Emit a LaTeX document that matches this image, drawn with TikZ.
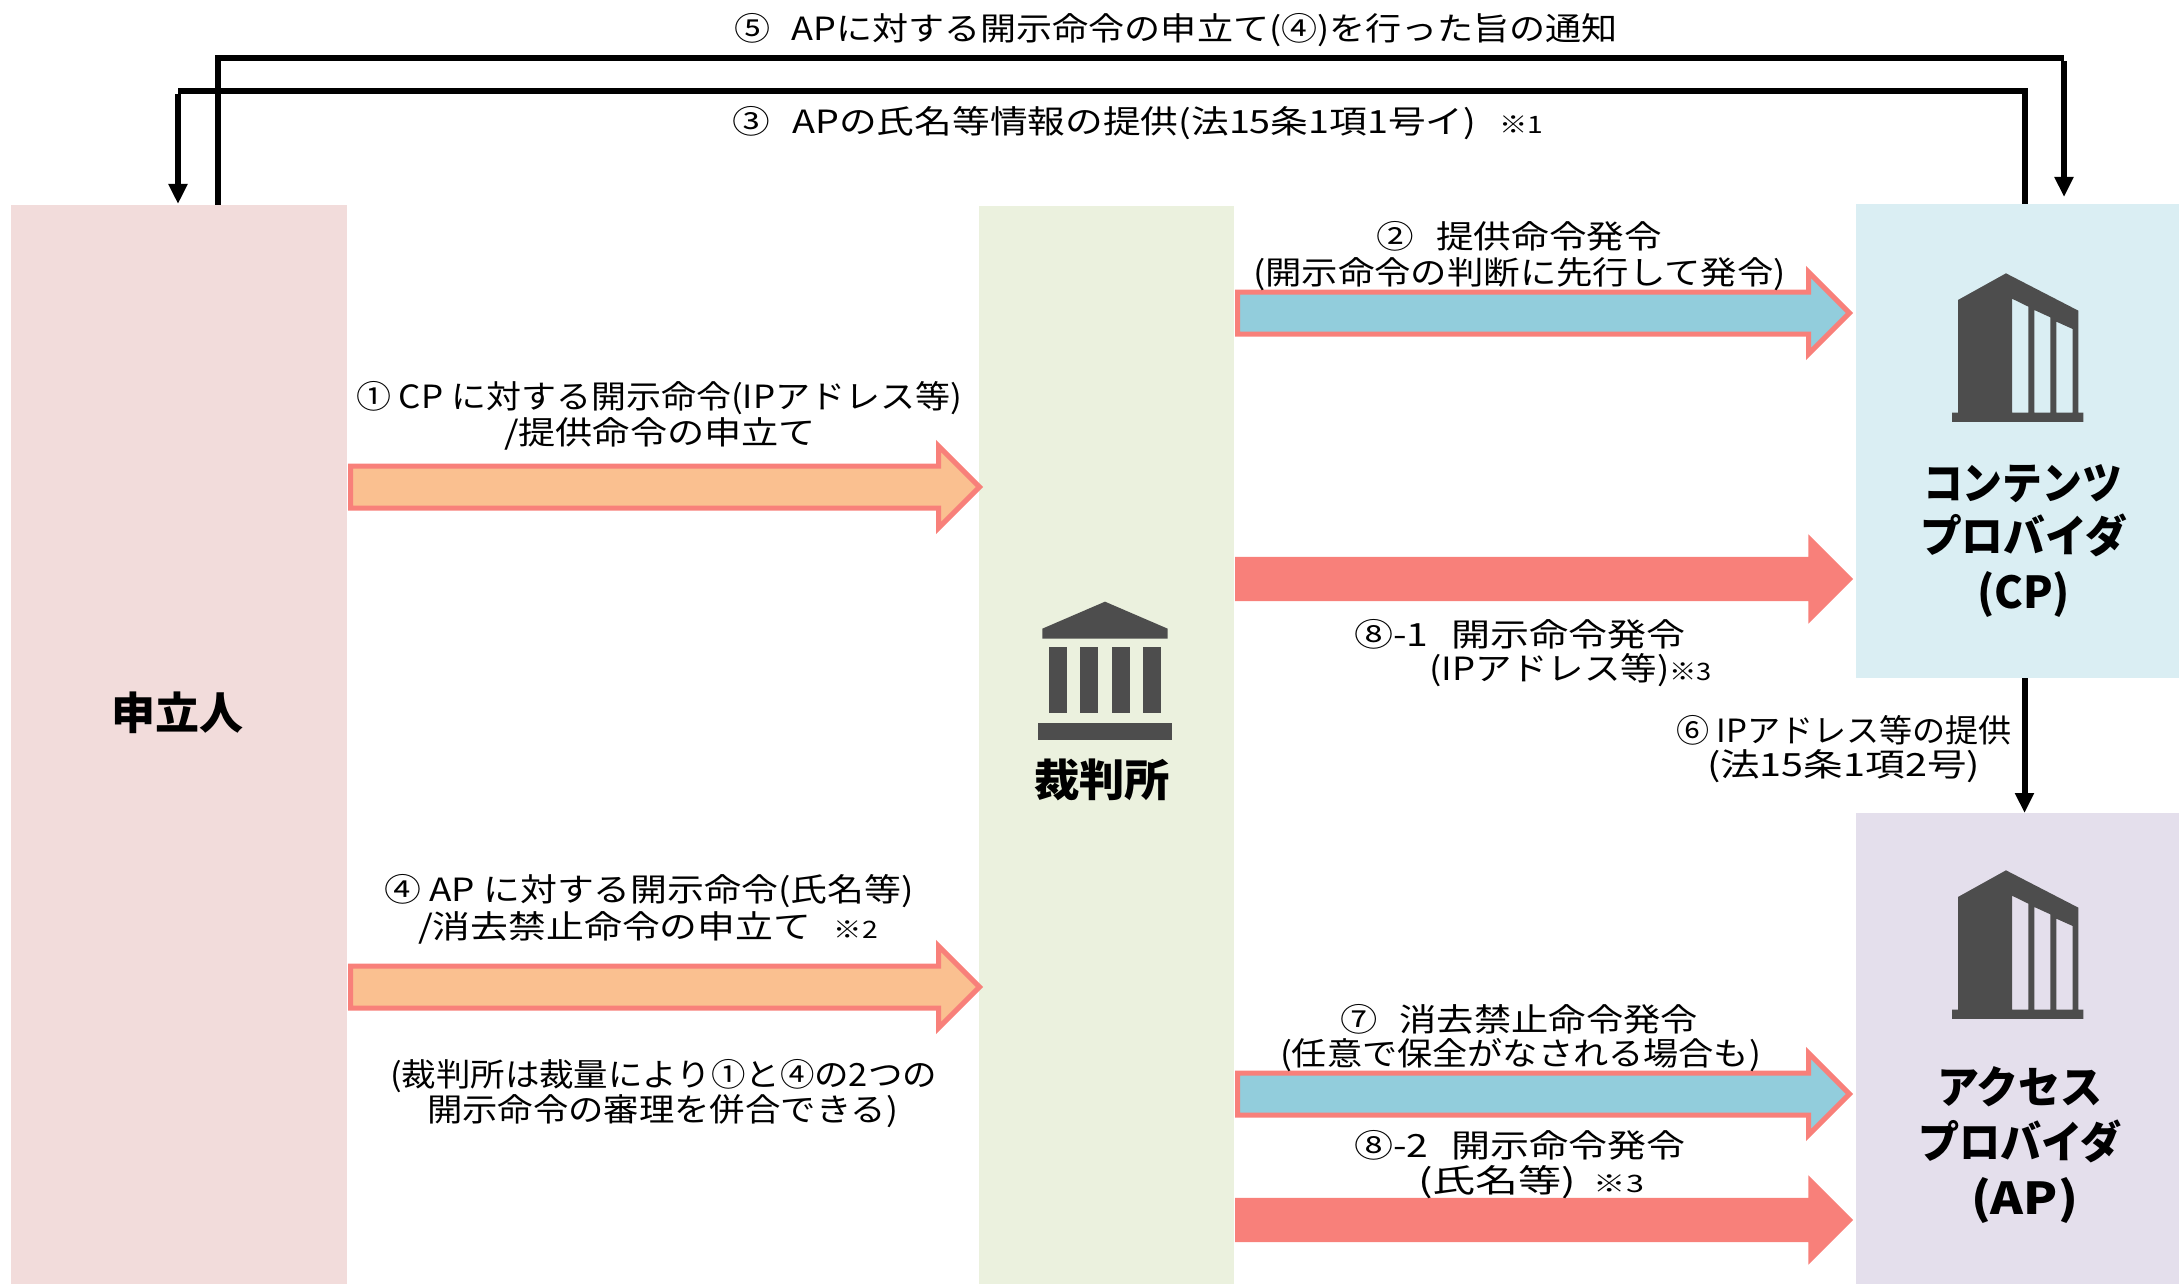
\documentclass[tikz,border=0pt]{standalone}
\usepackage{graphicx}
\usepackage{fontspec}
\setmainfont{Noto Sans CJK JP}
\usetikzlibrary{arrows.meta,shapes.arrows}
\definecolor{boxapp}{HTML}{F2DCDB}
\definecolor{boxcourt}{HTML}{EBF1DE}
\definecolor{boxcp}{HTML}{DAEEF3}
\definecolor{boxap}{HTML}{E4DFEC}
\definecolor{salmon}{HTML}{F8807A}
\definecolor{peach}{HTML}{FAC090}
\definecolor{sky}{HTML}{92CDDC}
\definecolor{icongrey}{HTML}{4D4D4D}
\newsavebox\fitbox
\newcommand\fitto[2]{\sbox\fitbox{#2}\pgfmathsetmacro\fitr{(#1)/\the\wd\fitbox}\scalebox{\fitr}[1]{\usebox\fitbox}}
\newcommand\lbl[5]{\node[lab] (#1) at ({(#2+#3)/2},{#4+12}) {\fitto{#3-#2}{#5}};}
\newcommand\blbl[5]{\node[blab] (#1) at ({(#2+#3)/2},{#4+16}) {\fitto{#3-#2}{#5}};}
\newcommand\smallnote[1]{{\fontsize{24pt}{24pt}\selectfont #1}}
\tikzset{
  panel/.style={rectangle,draw=none,inner sep=0pt,outer sep=0pt},
  lab/.style={anchor=base,inner sep=0pt,outer sep=0pt,font=\fontsize{32pt}{32pt}\selectfont},
  blab/.style={anchor=base,inner sep=0pt,outer sep=0pt,font=\fontsize{44pt}{44pt}\selectfont\bfseries},
  conn/.style={draw=black,line width=6pt,-{Triangle[width=18pt,length=20pt]}},
  plainconn/.style={draw=black,line width=6pt},
  block/.style={single arrow,anchor=tail,single arrow tip angle=90,inner xsep=0pt,outer sep=0pt},
  outlined/.style={block,draw=salmon,line width=5pt,inner ysep=18.5pt,single arrow head extend=20pt},
  solidarrow/.style={block,fill=salmon,draw=none,inner ysep=22pt,single arrow head extend=22.5pt},
  bldg/.pic={
    \fill[icongrey,even odd rule,x=0.3333pt,y=-0.3333pt]
      (474,360)--(618,280)--(835,392)--(835,698)--(850,698)--(850,726)--(456,726)--(456,698)--(474,698)--cycle
      (636,356)--(685,380)--(685,698)--(636,698)--cycle
      (703,390)--(751,412)--(751,698)--(703,698)--cycle
      (769,425)--(818,447)--(818,698)--(769,698)--cycle;
  },
}
\begin{document}
\begin{tikzpicture}[x=1pt,y=-1pt]
\useasboundingbox (0,0) rectangle (2179,1284);
% panels
\node[panel,fill=boxapp,minimum width=336pt,minimum height=1079pt] (app) at (179,744.5) {};
\node[panel,fill=boxcourt,minimum width=255pt,minimum height=1078pt] (court) at (1106.5,745) {};
\node[panel,fill=boxcp,minimum width=323pt,minimum height=474pt] (cp) at (2017.5,441) {};
\node[panel,fill=boxap,minimum width=323pt,minimum height=471pt] (ap) at (2017.5,1048.5) {};
% block arrows
\node[outlined,fill=peach,minimum height=629pt,minimum width=77pt] (a1) at (350.5,487) {};
\node[outlined,fill=peach,minimum height=629pt,minimum width=77pt] (a4) at (350.5,987) {};
\node[outlined,fill=sky,minimum height=612pt,minimum width=77pt] (a2) at (1237.5,313) {};
\node[outlined,fill=sky,minimum height=612pt,minimum width=77pt] (a7) at (1237.5,1094) {};
\node[solidarrow,minimum height=618pt,minimum width=89pt] (a81) at (1235,579) {};
\node[solidarrow,minimum height=618pt,minimum width=89pt] (a82) at (1235,1220) {};
% connectors
\coordinate (k5) at (2064,58);
\coordinate (n5) at (2064,197);
\coordinate (k3) at (178,91);
\coordinate (n3) at (178,204);
\draw[plainconn] ([xshift=39pt]app.north) |- (k5);
\draw[conn] ([yshift=-3pt]k5) -- (n5);
\draw[plainconn] ([xshift=7pt]cp.north) |- (k3);
\draw[conn] ([yshift=-3pt]k3) -- (n3);
\draw[conn] ([xshift=7pt]cp.south) -- ([xshift=7pt]ap.north);
% icons
\pic at (1800,180) {bldg};
\pic at (1800,777) {bldg};
\begin{scope}[shift={(980,580)},x=0.3333pt,y=-0.3333pt]
  \fill[icongrey] (187,146)--(375,65)--(563,146)--(563,176)--(187,176)--cycle;
  \fill[icongrey] (207,202) rectangle (261,400);
  \fill[icongrey] (301,202) rectangle (355,400);
  \fill[icongrey] (395,202) rectangle (449,400);
  \fill[icongrey] (489,202) rectangle (543,400);
  \fill[icongrey] (174,428) rectangle (577,480);
\end{scope}
% bold labels
\blbl{tapp}{111}{243}{713}{申立人}
\blbl{tcourt}{1034}{1170}{780}{裁判所}
\blbl{tcp1}{1923}{2122}{483}{コンテンツ}
\blbl{tcp2}{1920}{2127}{536}{プロバイダ}
\blbl{tcp3}{1977}{2070}{592}{(CP)}
\blbl{tap1}{1937}{2103}{1087}{アクセス}
\blbl{tap2}{1918}{2122}{1142}{プロバイダ}
\blbl{tap3}{1971}{2078}{1198}{(AP)}
% labels
\lbl{l5}{734}{1618}{29}{⑤\hspace{0.6em}APに対する開示命令の申立て(④)を行った旨の通知}
\lbl{l3}{732}{1543}{122}{③\hspace{0.6em}APの氏名等情報の提供(法15条1項1号イ)\hspace{0.6em}\smallnote{※1}}
\lbl{l2a}{1376}{1662}{236}{②\hspace{0.6em}提供命令発令}
\lbl{l2b}{1253}{1786}{272}{(開示命令の判断に先行して発令)}
\lbl{l1a}{356}{962}{396}{① CP に対する開示命令(IPアドレス等)}
\lbl{l1b}{504}{816}{432}{/提供命令の申立て}
\lbl{l81a}{1354}{1686}{634}{⑧-1\hspace{0.6em}開示命令発令}
\lbl{l81b}{1429}{1712}{668}{(IPアドレス等)\smallnote{※3}}
\lbl{l6a}{1676}{2012}{730}{⑥ IPアドレス等の提供}
\lbl{l6b}{1707}{1980}{764}{(法15条1項2号)}
\lbl{l4a}{384}{914}{889}{④ AP に対する開示命令(氏名等)}
\lbl{l4b}{418}{878}{926}{/消去禁止命令の申立て\hspace{0.6em}\smallnote{※2}}
\lbl{lna}{390}{937}{1074}{(裁判所は裁量により①と④の2つの}
\lbl{lnb}{427}{898}{1109}{開示命令の審理を併合できる)}
\lbl{l7a}{1340}{1698}{1019}{⑦\hspace{0.6em}消去禁止命令発令}
\lbl{l7b}{1280}{1761}{1053}{(任意で保全がなされる場合も)}
\lbl{l82a}{1354}{1686}{1145}{⑧-2\hspace{0.6em}開示命令発令}
\lbl{l82b}{1418}{1644}{1180}{(氏名等)\hspace{0.4em}\smallnote{※3}}
\end{tikzpicture}
\end{document}
